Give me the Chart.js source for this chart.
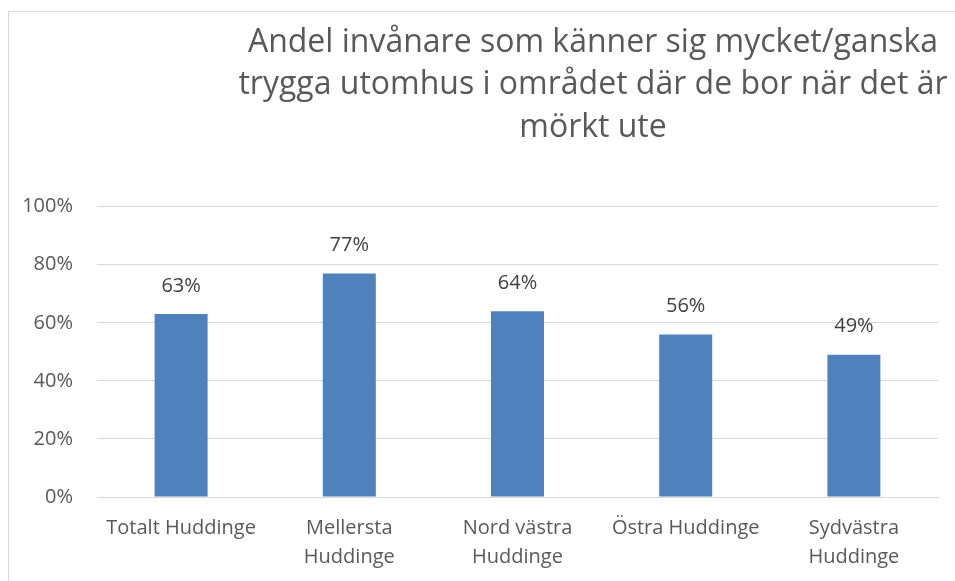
<!DOCTYPE html>
<html>
<head>
<meta charset="utf-8">
<script src="https://cdn.jsdelivr.net/npm/chart.js@4/dist/chart.umd.min.js"></script>
<style>
  html, body { margin: 0; padding: 0; background: #fff; overflow: hidden; }
  #wrap { position: absolute; left: 8px; top: 11px; border: 1px solid #d9d9d9; width: 1168px; height: 600px; }
  canvas { display: block; }
</style>
</head>
<body>
<div id="wrap"><canvas id="chart" width="1168" height="600"></canvas></div>
<script>
// Data
const categories = [
    ['Totalt Huddinge'],
    ['Mellersta', 'Huddinge'],
    ['Nord västra', 'Huddinge'],
    ['Östra Huddinge'],
    ['Sydvästra', 'Huddinge']
];
const values = [63, 77, 64, 56, 49];
const yTicks = [0, 20, 40, 60, 80, 100];
const titleLines = [
    'Andel invånare som känner sig mycket/ganska',
    'trygga utomhus i området där de bor när det är',
    'mörkt ute'
];

const textColor = '#595959';
const fontFamily = '"Open Sans", "Liberation Sans", sans-serif';

// Etiquetas de valor sobre las barras
const valueLabels = {
    id: 'valueLabels',
    afterDatasetsDraw(chart) {
        const ctx = chart.ctx;
        const meta = chart.getDatasetMeta(0);
        ctx.save();
        ctx.font = '20px ' + fontFamily;
        ctx.fillStyle = '#404040';
        ctx.textAlign = 'center';
        ctx.textBaseline = 'middle';
        meta.data.forEach((bar, i) => {
            ctx.fillText(values[i] + '%', bar.x, bar.y - 28);
        });
        ctx.restore();
    }
};

new Chart(document.getElementById('chart').getContext('2d'), {
    type: 'bar',
    data: {
        labels: categories,
        datasets: [{
            data: values,
            backgroundColor: '#4F81BD',
            barPercentage: 1,
            categoryPercentage: 0.315
        }]
    },
    options: {
        responsive: false,
        animation: false,
        devicePixelRatio: 1,
        layout: { padding: 0 },
        plugins: {
            legend: { display: false },
            tooltip: { enabled: false },
            title: {
                display: true,
                text: titleLines,
                color: textColor,
                font: { family: fontFamily, size: 32, weight: 'normal', lineHeight: 1.32 },
                padding: { top: 10, bottom: 58 }
            }
        },
        scales: {
            x: {
                grid: { display: false },
                border: { color: '#d9d9d9', width: 1 },
                ticks: {
                    color: textColor,
                    font: { family: fontFamily, size: 20, lineHeight: 1.45 },
                    padding: 9,
                    maxRotation: 0,
                    autoSkip: false
                },
                afterFit(scale) { scale.height = 115; }
            },
            y: {
                min: 0,
                max: 100,
                afterBuildTicks(scale) { scale.ticks = yTicks.map(v => ({ value: v })); },
                grid: { color: '#d9d9d9', lineWidth: 1, drawTicks: false },
                border: { display: false },
                ticks: {
                    color: textColor,
                    font: { family: fontFamily, size: 20 },
                    padding: 24,
                    callback: v => v + '%'
                },
                afterFit(scale) { scale.width = 88; }
            },
            y2: {
                position: 'right',
                grid: { display: false },
                border: { display: false },
                ticks: { display: false },
                afterFit(scale) { scale.width = 239; }
            }
        }
    },
    plugins: [valueLabels]
});
</script>
</body>
</html>
